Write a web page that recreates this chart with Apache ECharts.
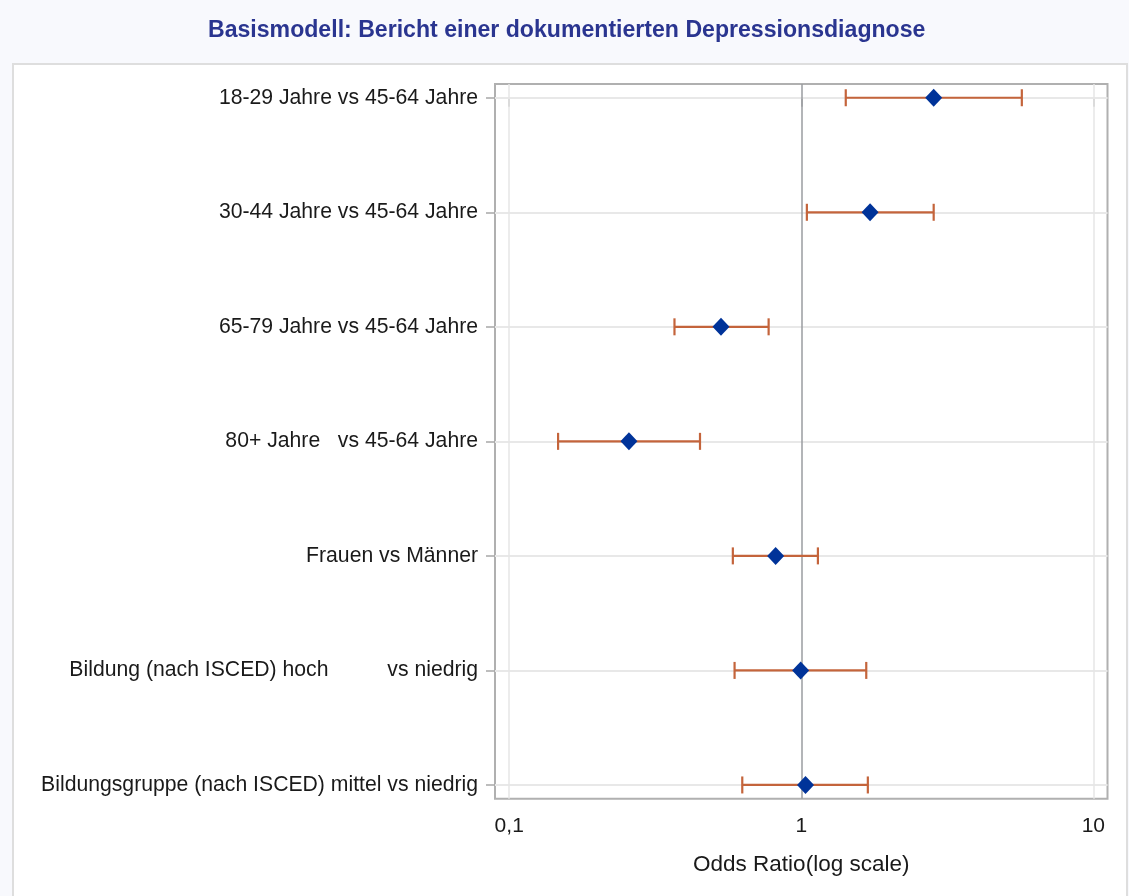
<!DOCTYPE html>
<html>
<head>
<meta charset="utf-8">
<script src="https://cdn.jsdelivr.net/npm/echarts@6/dist/echarts.min.js"></script>
<style>
html,body{margin:0;padding:0;background:#f8f9fd;}
#chart{width:1129px;height:896px;}
</style>
</head>
<body>
<div id="chart"></div>
<script>
const titleText = 'Basismodell: Bericht einer dokumentierten Depressionsdiagnose';
const xAxisName = 'Odds Ratio(log scale)';
const categories = [
  '18-29 Jahre vs 45-64 Jahre',
  '30-44 Jahre vs 45-64 Jahre',
  '65-79 Jahre vs 45-64 Jahre',
  '80+ Jahre   vs 45-64 Jahre',
  'Frauen vs Männer',
  'Bildung (nach ISCED) hoch          vs niedrig',
  'Bildungsgruppe (nach ISCED) mittel vs niedrig'
];
const oddsRatio = [2.84, 1.72, 0.531, 0.257, 0.817, 0.995, 1.034];
const lowerCI   = [1.42, 1.045, 0.368, 0.147, 0.583, 0.591, 0.628];
const upperCI   = [5.69, 2.84, 0.773, 0.450, 1.14, 1.669, 1.69];
const xTickValues = [0.1, 1, 10];
const xTickLabels = ['0,1', '1', '10'];
const referenceValue = 1;

const FONT = '"Liberation Sans", Arial, sans-serif';
const idx = categories.map((c, i) => i);

const chart = echarts.init(document.getElementById('chart'), null, {renderer: 'canvas'});

const option = {
  backgroundColor: '#f8f9fd',
  animation: false,
  title: {
    text: titleText,
    left: 203,
    top: 14,
    textStyle: {fontFamily: FONT, fontSize: 23.1, fontWeight: 'bold', color: '#2a3590'}
  },
  graphic: [{
    type: 'rect',
    z: -10,
    shape: {x: 13, y: 64, width: 1114, height: 860},
    style: {fill: '#ffffff', stroke: '#dedede', lineWidth: 2}
  }],
  grid: {
    left: 495, right: 21.5, top: 84, bottom: 97.3,
    show: true, backgroundColor: '#ffffff', borderColor: '#b0b0b0', borderWidth: 2,
    containLabel: false
  },
  xAxis: {
    type: 'log',
    logBase: 10,
    min: 0.0894,
    max: 11.18,
    name: xAxisName,
    nameLocation: 'middle',
    nameGap: 55,
    nameTextStyle: {fontFamily: FONT, fontSize: 22.5, color: '#1a1a1a'},
    axisLine: {show: false},
    splitLine: {show: false},
    axisTick: {show: true, customValues: xTickValues, length: 9, lineStyle: {color: '#a8a8a8', width: 1.5}},
    axisLabel: {
      customValues: xTickValues,
      margin: 17,
      fontFamily: FONT, fontSize: 21, color: '#1a1a1a',
      formatter: function (v) {
        let best = 0;
        xTickValues.forEach((t, i) => { if (Math.abs(Math.log10(t) - Math.log10(v)) < Math.abs(Math.log10(xTickValues[best]) - Math.log10(v))) best = i; });
        return xTickLabels[best];
      }
    }
  },
  yAxis: {
    type: 'value',
    inverse: true,
    min: -0.12,
    max: categories.length - 1 + 0.12,
    axisLine: {show: false},
    splitLine: {show: false},
    axisTick: {show: true, customValues: idx, length: 9, lineStyle: {color: '#a8a8a8', width: 1.5}},
    axisLabel: {
      customValues: idx,
      margin: 17,
      fontFamily: FONT, fontSize: 21.2, color: '#1a1a1a',
      formatter: function (v) { return categories[Math.round(v)] || ''; }
    }
  },
  series: [
    {
      type: 'line',
      data: [],
      zlevel: 0,
      z: 1,
      silent: true,
      markLine: {
        silent: true,
        symbol: 'none',
        label: {show: false},
        animation: false,
        data: idx.map(i => ({yAxis: i, lineStyle: {color: '#e8e8e8', width: 2, type: 'solid'}}))
          .concat(xTickValues.filter(v => v !== referenceValue).map(v => ({xAxis: v, lineStyle: {color: '#e6e6e6', width: 1.5, type: 'solid'}})))
          .concat([{xAxis: referenceValue, lineStyle: {color: '#9a9da1', width: 1.5, type: 'solid'}}])
      }
    },
    {
      type: 'custom',
      zlevel: 1,
      z: 2,
      data: idx.map(i => [lowerCI[i], upperCI[i], i]),
      encode: {x: [0, 1], y: 2},
      renderItem: function (params, api) {
        const y = api.value(2);
        const p1 = api.coord([api.value(0), y]);
        const p2 = api.coord([api.value(1), y]);
        const h = 8.5;
        const style = {stroke: '#c4643b', lineWidth: 2.2, fill: null};
        return {
          type: 'group',
          children: [
            {type: 'line', shape: {x1: p1[0], y1: p1[1], x2: p2[0], y2: p2[1]}, style: style},
            {type: 'line', shape: {x1: p1[0], y1: p1[1] - h, x2: p1[0], y2: p1[1] + h}, style: style},
            {type: 'line', shape: {x1: p2[0], y1: p2[1] - h, x2: p2[0], y2: p2[1] + h}, style: style}
          ]
        };
      }
    },
    {
      type: 'scatter',
      zlevel: 1,
      z: 3,
      symbol: 'diamond',
      symbolSize: [17, 18],
      itemStyle: {color: '#003399', opacity: 1},
      data: idx.map(i => [oddsRatio[i], i])
    }
  ]
};
chart.setOption(option);
</script>
</body>
</html>
